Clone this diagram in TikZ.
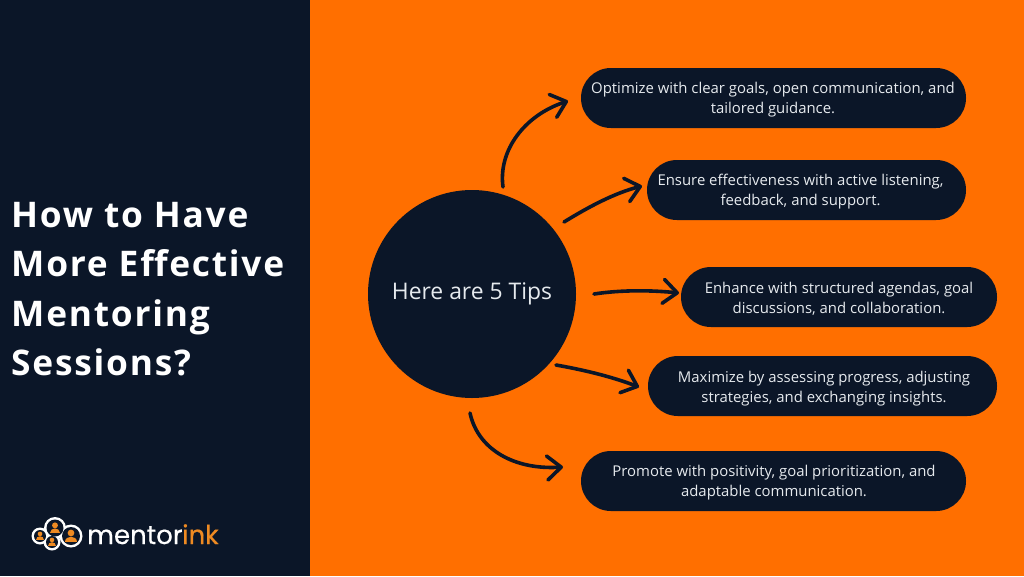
\documentclass[tikz,border=0pt]{standalone}
\usepackage{fontspec}
\setmainfont{Open Sans}
\newfontfamily\titlefont[LetterSpace=5]{Open Sans}
\newfontfamily\logofont[FakeBold=0.5]{Poppins}
\usetikzlibrary{arrows.meta}
\definecolor{navy}{HTML}{0B1628}
\definecolor{bgorange}{HTML}{FF6F00}
\definecolor{logoorange}{HTML}{EE8A22}
\definecolor{paletext}{HTML}{E6EAEE}
\tikzset{
  x=1pt,y=-1pt,
  tip/.style={text=paletext,font=\fontsize{14.9}{20}\selectfont,align=center,inner sep=0pt},
  conn/.style={draw=navy,line width=3.6pt,line cap=round,-{Straight Barb[length=14pt,width=24pt,round,line width=3.6pt]}},
  title/.style={text=white,font=\titlefont\bfseries\fontsize{35.3}{49.3}\selectfont,align=left,anchor=west,inner sep=0pt},
  cloudline/.style={fill=white},
  cloudhole/.style={fill=navy},
  person/.style={fill=logoorange}
}
\newcommand{\personicon}[3]{%
  \fill[person] (#1,#2-#3*0.38) circle[radius=#3*0.42];
  \fill[person] (#1-#3*0.78,#2+#3*0.72) .. controls (#1-#3*0.78,#2-#3*0.1) and (#1+#3*0.78,#2-#3*0.1) .. (#1+#3*0.78,#2+#3*0.72) -- cycle;
}
\begin{document}
\begin{tikzpicture}
\useasboundingbox (0,0) rectangle (1024,576);
\fill[bgorange] (0,0) rectangle (1024,576);
\fill[navy] (0,0) rectangle (310,576);
\node[title] (heading) at (11,289) {How to Have\\More Effective\\Mentoring\\Sessions?};
% logo
\foreach \cx/\cy/\r in {40/536/8.5,55/528/11,71/536/11.5,52/542/8.5}{\fill[cloudline] (\cx,\cy) circle[radius=\r];}
\foreach \cx/\cy/\r in {40/536/6,55/528/8.5,71/536/9,52/542/6}{\fill[cloudhole] (\cx,\cy) circle[radius=\r];}
\personicon{40}{536}{5.5}
\personicon{55}{528}{7}
\personicon{71}{536}{8}
\personicon{52}{542}{5.5}
\node[anchor=base west,inner sep=0pt,text=white,font=\logofont\fontsize{26}{26}\selectfont] (logoa) at (87,544) {mentor};
\node[anchor=base west,inner sep=0pt,text=logoorange,font=\logofont\fontsize{26}{26}\selectfont] (logob) at (182,544) {ink};
% centre
\node[circle,fill=navy,minimum size=208pt,inner sep=0pt,text=paletext,font=\fontsize{22.9}{26}\selectfont] (hub) at (472,294) {\raisebox{-1.5pt}{Here are 5 Tips}};
% pills
\fill[navy,rounded corners=29.9pt] (581,68) rectangle (966,128);
\coordinate (p1) at (773,100);
\node[tip] (t1) at (p1) {Optimize with clear goals, open communication, and\\tailored guidance.};
\fill[navy,rounded corners=29.9pt] (647,160) rectangle (966,220);
\coordinate (p2) at (800.5,192);
\node[tip] (t2) at (p2) {Ensure effectiveness with active listening,\\feedback, and support.};
\fill[navy,rounded corners=29.9pt] (681,267) rectangle (997,327);
\coordinate (p3) at (839,299);
\node[tip] (t3) at (p3) {Enhance with structured agendas, goal\\discussions, and collaboration.};
\fill[navy,rounded corners=29.9pt] (648,356) rectangle (997,416);
\coordinate (p4) at (824,389);
\node[tip] (t4) at (p4) {Maximize by assessing progress, adjusting\\strategies, and exchanging insights.};
\fill[navy,rounded corners=29.9pt] (581,451) rectangle (966,511);
\coordinate (p5) at (774,483);
\node[tip] (t5) at (p5) {Promote with positivity, goal prioritization, and\\adaptable communication.};
% connectors
\coordinate (s1) at (503,187); \coordinate (e1) at (568,101);
\coordinate (s2) at (564,222); \coordinate (e2) at (642,186);
\coordinate (s3) at (594,294); \coordinate (e3) at (679,293);
\coordinate (s4) at (556,365); \coordinate (e4) at (639,387);
\coordinate (s5) at (470,413); \coordinate (e5) at (563,467);
\draw[conn] (s1) .. controls (498,150) and (525,115) .. (e1);
\draw[conn] (s2) .. controls (590,206) and (615,193) .. (e2);
\draw[conn] (s3) .. controls (620,290) and (650,290) .. (e3);
\draw[conn] (s4) .. controls (590,371) and (615,378) .. (e4);
\draw[conn] (s5) .. controls (478,450) and (515,470) .. (e5);
\end{tikzpicture}
\end{document}
